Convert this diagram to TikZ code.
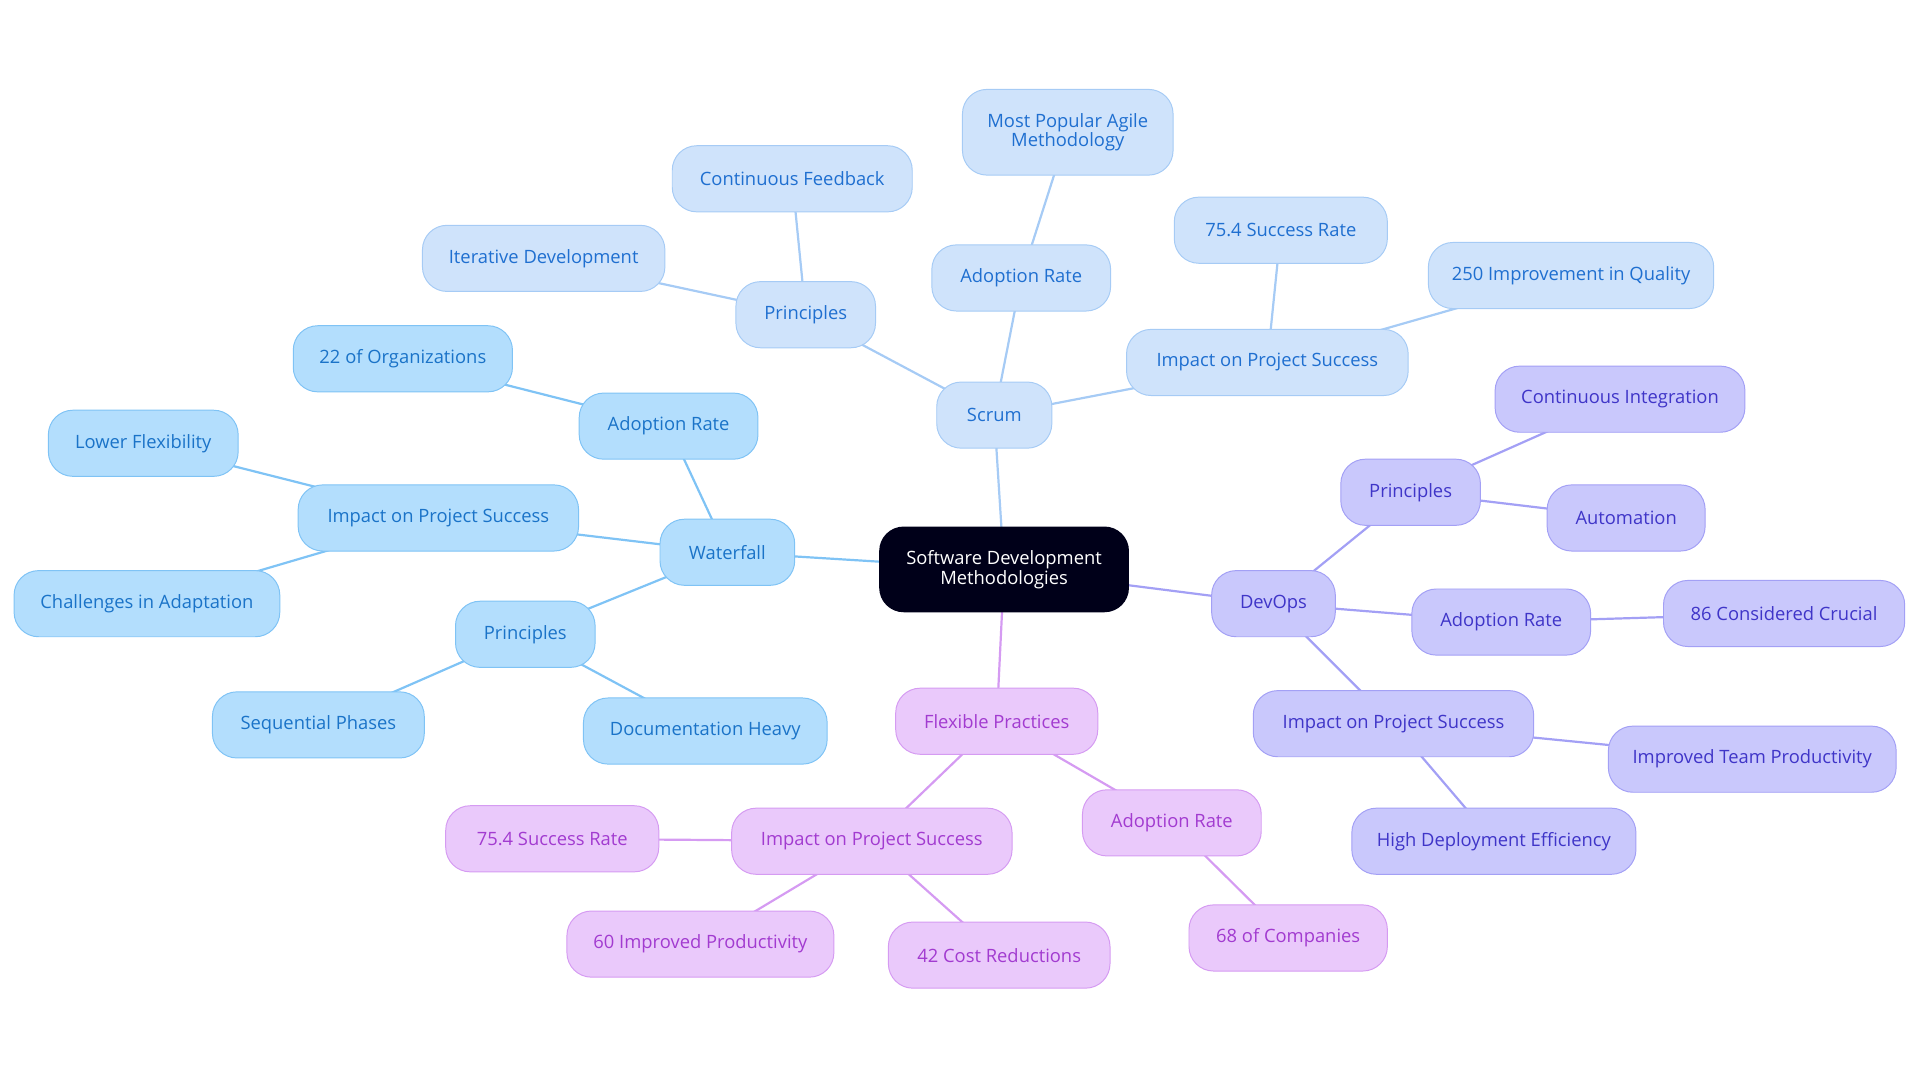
\documentclass[tikz,border=0pt]{standalone}
\usepackage{fontspec}
\setmainfont{Open Sans}
\usetikzlibrary{backgrounds}
\definecolor{sF}{HTML}{CFE3FB}\definecolor{sD}{HTML}{A6CBF5}\definecolor{sT}{HTML}{1F6FD0}
\definecolor{wF}{HTML}{B3DEFD}\definecolor{wD}{HTML}{7FC3F5}\definecolor{wT}{HTML}{1A73C8}
\definecolor{dF}{HTML}{C9C8FC}\definecolor{dD}{HTML}{A3A0F5}\definecolor{dT}{HTML}{3F35C8}
\definecolor{fF}{HTML}{EAC9FB}\definecolor{fD}{HTML}{D59BF2}\definecolor{fT}{HTML}{A23BD0}
\tikzset{
 base/.style={rounded corners=20pt,minimum height=54pt,align=center,line width=0.8pt,font=\fontsize{15}{16}\selectfont,inner sep=2pt},
 sn/.style={base,fill=sF,draw=sD,text=sT,minimum width=#1},
 wn/.style={base,fill=wF,draw=wD,text=wT,minimum width=#1},
 dn/.style={base,fill=dF,draw=dD,text=dT,minimum width=#1},
 fn/.style={base,fill=fF,draw=fD,text=fT,minimum width=#1},
 se/.style={draw=sD,line width=1.8pt},
 we/.style={draw=wD,line width=1.8pt},
 de/.style={draw=dD,line width=1.8pt},
 fe/.style={draw=fD,line width=1.8pt},
}
\begin{document}
\begin{tikzpicture}[x=1pt,y=-1pt]
\useasboundingbox (0,0) rectangle (1568,884);
\node[base,fill=black!90!blue,text=white,minimum width=204pt,minimum height=70pt,font=\fontsize{15}{16}\selectfont] (c) at (820,465) {Software Development\\Methodologies};
\node[sn=94pt] (s) at (812,339) {Scrum};
\node[sn=114pt] (sp) at (658,257) {Principles};
\node[sn=198pt] (sp1) at (444,211) {Iterative Development};
\node[sn=196pt] (sp2) at (647,146) {Continuous Feedback};
\node[sn=146pt] (sa) at (834,227) {Adoption Rate};
\node[sn=172pt,minimum height=70pt] (sa1) at (872,108) {Most Popular Agile\\Methodology};
\node[sn=230pt] (si) at (1035,296) {Impact on Project Success};
\node[sn=174pt] (si1) at (1046,188) {75.4 Success Rate};
\node[sn=233pt] (si2) at (1283,225) {250 Improvement in Quality};
\node[wn=110pt] (w) at (594,451) {Waterfall};
\node[wn=146pt] (wa) at (546,348) {Adoption Rate};
\node[wn=179pt] (wa1) at (329,293) {22 of Organizations};
\node[wn=229pt] (wi) at (358,423) {Impact on Project Success};
\node[wn=155pt] (wi1) at (117,362) {Lower Flexibility};
\node[wn=217pt] (wi2) at (120,493) {Challenges in Adaptation};
\node[wn=114pt] (wp) at (429,518) {Principles};
\node[wn=173pt] (wp1) at (260,592) {Sequential Phases};
\node[wn=199pt] (wp2) at (576,597) {Documentation Heavy};
\node[dn=101pt] (d) at (1040,493) {DevOps};
\node[dn=114pt] (dp) at (1152,402) {Principles};
\node[dn=204pt] (dp1) at (1323,326) {Continuous Integration};
\node[dn=129pt] (dp2) at (1328,423) {Automation};
\node[dn=146pt] (da) at (1226,508) {Adoption Rate};
\node[dn=197pt] (da1) at (1457,501) {86 Considered Crucial};
\node[dn=229pt] (di) at (1138,591) {Impact on Project Success};
\node[dn=235pt] (di1) at (1431,620) {Improved Team Productivity};
\node[dn=232pt] (di2) at (1220,687) {High Deployment Efficiency};
\node[fn=165pt] (f) at (814,589) {Flexible Practices};
\node[fn=229pt] (fi) at (712,687) {Impact on Project Success};
\node[fn=174pt] (fi1) at (451,685) {75.4 Success Rate};
\node[fn=218pt] (fi2) at (572,771) {60 Improved Productivity};
\node[fn=181pt] (fi3) at (816,780) {42 Cost Reductions};
\node[fn=146pt] (fa) at (957,672) {Adoption Rate};
\node[fn=162pt] (fa1) at (1052,766) {68 of Companies};
\begin{pgfonlayer}{background}
\draw[se] (c.center)--(s.center) (s.center)--(sp.center) (sp.center)--(sp1.center) (sp.center)--(sp2.center)
 (s.center)--(sa.center) (sa.center)--(sa1.center) (s.center)--(si.center) (si.center)--(si1.center) (si.center)--(si2.center);
\draw[we] (c.center)--(w.center) (w.center)--(wa.center) (wa.center)--(wa1.center) (w.center)--(wi.center) (wi.center)--(wi1.center) (wi.center)--(wi2.center)
 (w.center)--(wp.center) (wp.center)--(wp1.center) (wp.center)--(wp2.center);
\draw[de] (c.center)--(d.center) (d.center)--(dp.center) (dp.center)--(dp1.center) (dp.center)--(dp2.center) (d.center)--(da.center) (da.center)--(da1.center)
 (d.center)--(di.center) (di.center)--(di1.center) (di.center)--(di2.center);
\draw[fe] (c.center)--(f.center) (f.center)--(fi.center) (fi.center)--(fi1.center) (fi.center)--(fi2.center) (fi.center)--(fi3.center) (f.center)--(fa.center) (fa.center)--(fa1.center);
\end{pgfonlayer}
\end{tikzpicture}
\end{document}
